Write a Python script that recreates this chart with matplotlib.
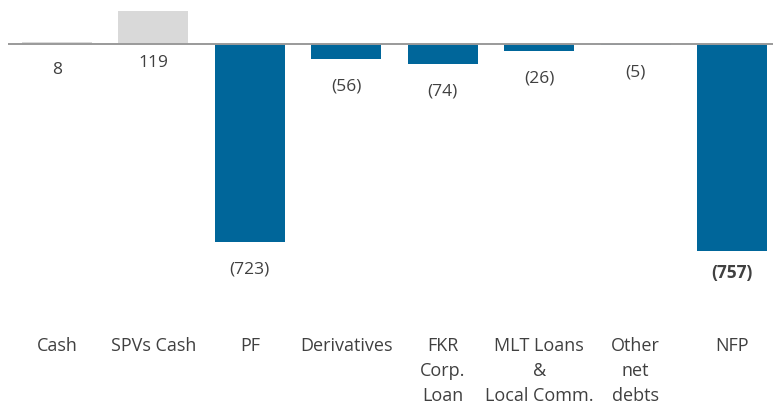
import matplotlib
matplotlib.use("Agg")
import matplotlib.pyplot as plt

categories = ["Cash", "SPVs Cash", "PF", "Derivatives", "FKR\nCorp.\nLoan",
              "MLT Loans\n&\nLocal Comm.", "Other\nnet\ndebts", "NFP"]
values = [8, 119, -723, -56, -74, -26, -5, -757]
labels = ["8", "119", "(723)", "(56)", "(74)", "(26)", "(5)", "(757)"]

blue = "#00669A"
grey = "#D9D9D9"
txt = "#404040"

plt.rcParams['font.family'] = ['Open Sans', 'DejaVu Sans']

fig = plt.figure(figsize=(7.73, 4.06), dpi=100)
ax = fig.add_axes([0, 0, 1, 1])

# pixel mapping: bar i centre at 57 + 96.43*i, zero line at y=44, 0.274 px per unit
px = 96.43
scale = 0.274
ax.set_xlim(-57 / px, (773 - 57) / px)
ax.set_ylim(-(406 - 45) / scale, 45 / scale)
ax.axis("off")

x = list(range(len(values)))
colors = [grey if v > 0 else blue for v in values]
ax.bar(x, values, width=0.725, color=colors, zorder=2)
ax.plot([(8 - 57) / px, (773 - 57) / px], [0, 0], color="#9A9A9A", lw=1.4, zorder=3,
        solid_capstyle="butt")

for i, (v, lab) in enumerate(zip(values, labels)):
    base = min(v, 0)
    if i == len(values) - 1:
        off = 21
    elif v <= 0:
        off = 26
    else:
        off = 25 if v < 50 else 18
    ax.text(i, base - off / scale, lab, ha="center", va="center", fontsize=12.5,
            color=txt, fontweight="bold" if i == len(values) - 1 else "normal")
    ax.text(i, -(337 - 45) / scale, categories[i], ha="center", va="top",
            fontsize=13, color=txt, linespacing=1.5)

fig.savefig("out.png", dpi=100)
